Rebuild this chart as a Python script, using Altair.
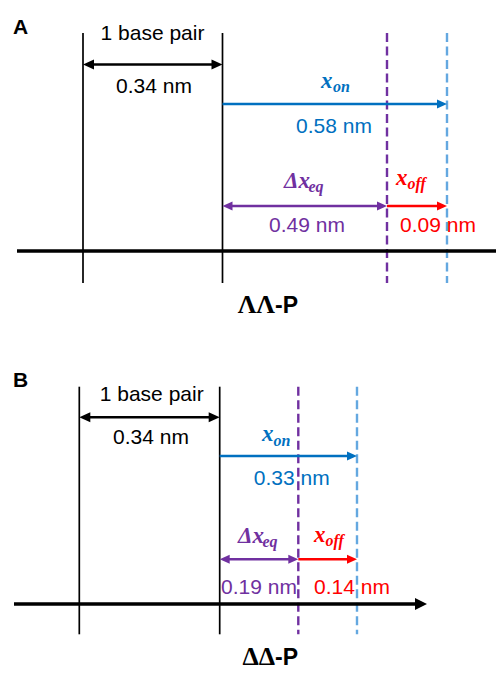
import altair as alt
import pandas as pd

# ---- values shown in the figure ----
panels = ["A", "B"]
title_greek = ["ΛΛ", "ΔΔ"]
title_suffix = ["-P", "-P"]
base_pair_nm = [0.34, 0.34]
x_on_nm = [0.58, 0.33]
dx_eq_nm = [0.49, 0.19]
x_off_nm = [0.09, 0.14]

# ---- schematic layout (diagram units = page pixels) ----
layout = {
    "A": dict(top=33, bottom=283, x0=83, x1=222.5, xeq=387, xon=447,
              y_bp=64.5, y_on=104, y_eq=206, y_axis=251, ax0=17, ax1=514,
              t_bp=(152.5, 40), t_bpnm=(154, 93), t_on=(334, 133),
              t_eq=(307, 232), t_off=(438, 232),
              m_on=(321, 88, 333, 92), m_eq=(284, 188, 308.5, 192),
              m_off=(396, 185, 407.5, 189), title=(275, 313), letter=(13, 33.5)),
    "B": dict(top=386.7, bottom=634.3, x0=79.3, x1=219.7, xeq=298.3, xon=357,
              y_bp=417.3, y_on=456, y_eq=559.3, y_axis=604, ax0=14, ax1=427,
              t_bp=(151.7, 401), t_bpnm=(151, 444), t_on=(291.7, 485),
              t_eq=(259, 594), t_off=(352, 594),
              m_on=(262, 441, 273.5, 446), m_eq=(238, 543, 262.5, 547),
              m_off=(314, 542, 325.5, 546), title=(275, 665), letter=(13, 387)),
}

BLACK = "#000000"
BLUE = "#0070C0"
PURPLE = "#7030A0"
RED = "#FF0000"
LIGHTBLUE = "#64A8E0"

R_HEAD = "M0,0L-1,-0.45L-1,0.45Z"
L_HEAD = "M0,0L1,-0.45L1,0.45Z"
R_AXIS = "M0,0L-1,-0.5L-1,0.5Z"

solid, dashed, heads, labels, math_main, math_sub, letters, greek, suffix = ([] for _ in range(9))

for i, p in enumerate(panels):
    L = layout[p]
    # vertical base-pair lines
    for xv in (L["x0"], L["x1"]):
        solid.append(dict(x=xv, x2=xv, y=L["top"], y2=L["bottom"], c=BLACK, w=1.7))
    # dashed markers
    dashed.append(dict(x=L["xeq"], x2=L["xeq"], y=L["top"], y2=L["bottom"], c=PURPLE))
    dashed.append(dict(x=L["xon"], x2=L["xon"], y=L["top"], y2=L["bottom"], c=LIGHTBLUE))
    # arrows
    solid.append(dict(x=L["x0"] + 5, x2=L["x1"] - 5, y=L["y_bp"], y2=L["y_bp"], c=BLACK, w=2.6))
    solid.append(dict(x=L["x1"], x2=L["xon"] - 5, y=L["y_on"], y2=L["y_on"], c=BLUE, w=2.4))
    solid.append(dict(x=L["x1"] + 5, x2=L["xeq"] - 5, y=L["y_eq"], y2=L["y_eq"], c=PURPLE, w=2.4))
    solid.append(dict(x=L["xeq"], x2=L["xon"] - 5, y=L["y_eq"], y2=L["y_eq"], c=RED, w=2.4))
    solid.append(dict(x=L["ax0"], x2=L["ax1"] - 6, y=L["y_axis"], y2=L["y_axis"], c=BLACK, w=3.6))
    heads += [
        dict(x=L["x0"], y=L["y_bp"], s=L_HEAD, sz=484, c=BLACK),
        dict(x=L["x1"], y=L["y_bp"], s=R_HEAD, sz=484, c=BLACK),
        dict(x=L["xon"], y=L["y_on"], s=R_HEAD, sz=400, c=BLUE),
        dict(x=L["x1"], y=L["y_eq"], s=L_HEAD, sz=400, c=PURPLE),
        dict(x=L["xeq"], y=L["y_eq"], s=R_HEAD, sz=400, c=PURPLE),
        dict(x=L["xon"], y=L["y_eq"], s=R_HEAD, sz=400, c=RED),
        dict(x=L["ax1"], y=L["y_axis"], s=R_AXIS, sz=576, c=BLACK),
    ]
    # labels
    labels += [
        dict(x=L["t_bp"][0], y=L["t_bp"][1], t="1 base pair", c=BLACK),
        dict(x=L["t_bpnm"][0], y=L["t_bpnm"][1], t=f"{base_pair_nm[i]:.2f} nm", c=BLACK),
        dict(x=L["t_on"][0], y=L["t_on"][1], t=f"{x_on_nm[i]:.2f} nm", c=BLUE),
        dict(x=L["t_eq"][0], y=L["t_eq"][1], t=f"{dx_eq_nm[i]:.2f} nm", c=PURPLE),
        dict(x=L["t_off"][0], y=L["t_off"][1], t=f"{x_off_nm[i]:.2f} nm", c=RED),
    ]
    for key, main, sub, col in (("m_on", "x", "on", BLUE),
                                ("m_eq", "Δx", "eq", PURPLE),
                                ("m_off", "x", "off", RED)):
        mx, my, sx, sy = L[key]
        math_main.append(dict(x=mx, y=my, t=main, c=col))
        math_sub.append(dict(x=sx, y=sy, t=sub, c=col))
    letters.append(dict(x=L["letter"][0], y=L["letter"][1], t=p, c=BLACK))
    greek.append(dict(x=L["title"][0], y=L["title"][1], t=title_greek[i], c=BLACK))
    suffix.append(dict(x=L["title"][0], y=L["title"][1], t=title_suffix[i], c=BLACK))

XS = alt.Scale(domain=[8, 496], nice=False, zero=False)
YS = alt.Scale(domain=[8, 670], nice=False, zero=False, reverse=True)


def X():
    return alt.X("x:Q", scale=XS, axis=None)


def Y():
    return alt.Y("y:Q", scale=YS, axis=None)


C = alt.Color("c:N", scale=None, legend=None)

solid_layer = alt.Chart(pd.DataFrame(solid)).mark_rule().encode(
    x=X(), x2="x2:Q", y=Y(), y2="y2:Q", color=C,
    strokeWidth=alt.StrokeWidth("w:Q", scale=None, legend=None))

dashed_layer = alt.Chart(pd.DataFrame(dashed)).mark_rule(
    strokeWidth=2.4, strokeDash=[9, 4.5]).encode(
    x=X(), x2="x2:Q", y=Y(), y2="y2:Q", color=C)

head_layer = alt.Chart(pd.DataFrame(heads)).mark_point(
    filled=True, opacity=1, strokeWidth=0).encode(
    x=X(), y=Y(), color=C,
    shape=alt.Shape("s:N", scale=None, legend=None),
    size=alt.Size("sz:Q", scale=None, legend=None))

label_layer = alt.Chart(pd.DataFrame(labels)).mark_text(
    font="Liberation Sans", fontSize=21, align="center", baseline="alphabetic").encode(
    x=X(), y=Y(), text="t:N", color=C)

main_layer = alt.Chart(pd.DataFrame(math_main)).mark_text(
    font="Liberation Serif", fontSize=23, fontStyle="italic", fontWeight="bold",
    align="left", baseline="alphabetic").encode(x=X(), y=Y(), text="t:N", color=C)

sub_layer = alt.Chart(pd.DataFrame(math_sub)).mark_text(
    font="Liberation Serif", fontSize=16, fontStyle="italic", fontWeight="bold",
    align="left", baseline="alphabetic").encode(x=X(), y=Y(), text="t:N", color=C)

letter_layer = alt.Chart(pd.DataFrame(letters)).mark_text(
    font="Liberation Sans", fontSize=21, fontWeight="bold",
    align="left", baseline="alphabetic").encode(x=X(), y=Y(), text="t:N", color=C)

greek_layer = alt.Chart(pd.DataFrame(greek)).mark_text(
    font="Liberation Serif", fontSize=26, fontWeight="bold",
    align="right", baseline="alphabetic").encode(x=X(), y=Y(), text="t:N", color=C)

suffix_layer = alt.Chart(pd.DataFrame(suffix)).mark_text(
    font="Liberation Sans", fontSize=23, fontWeight="bold",
    align="left", baseline="alphabetic").encode(x=X(), y=Y(), text="t:N", color=C)

chart = alt.layer(
    dashed_layer, solid_layer, head_layer, label_layer, main_layer, sub_layer,
    letter_layer, greek_layer, suffix_layer
).properties(
    width=488, height=662, padding=0, autosize="none"
).configure_view(stroke=None)

chart.save("out.html", embed_options={"renderer": "svg", "actions": False})
